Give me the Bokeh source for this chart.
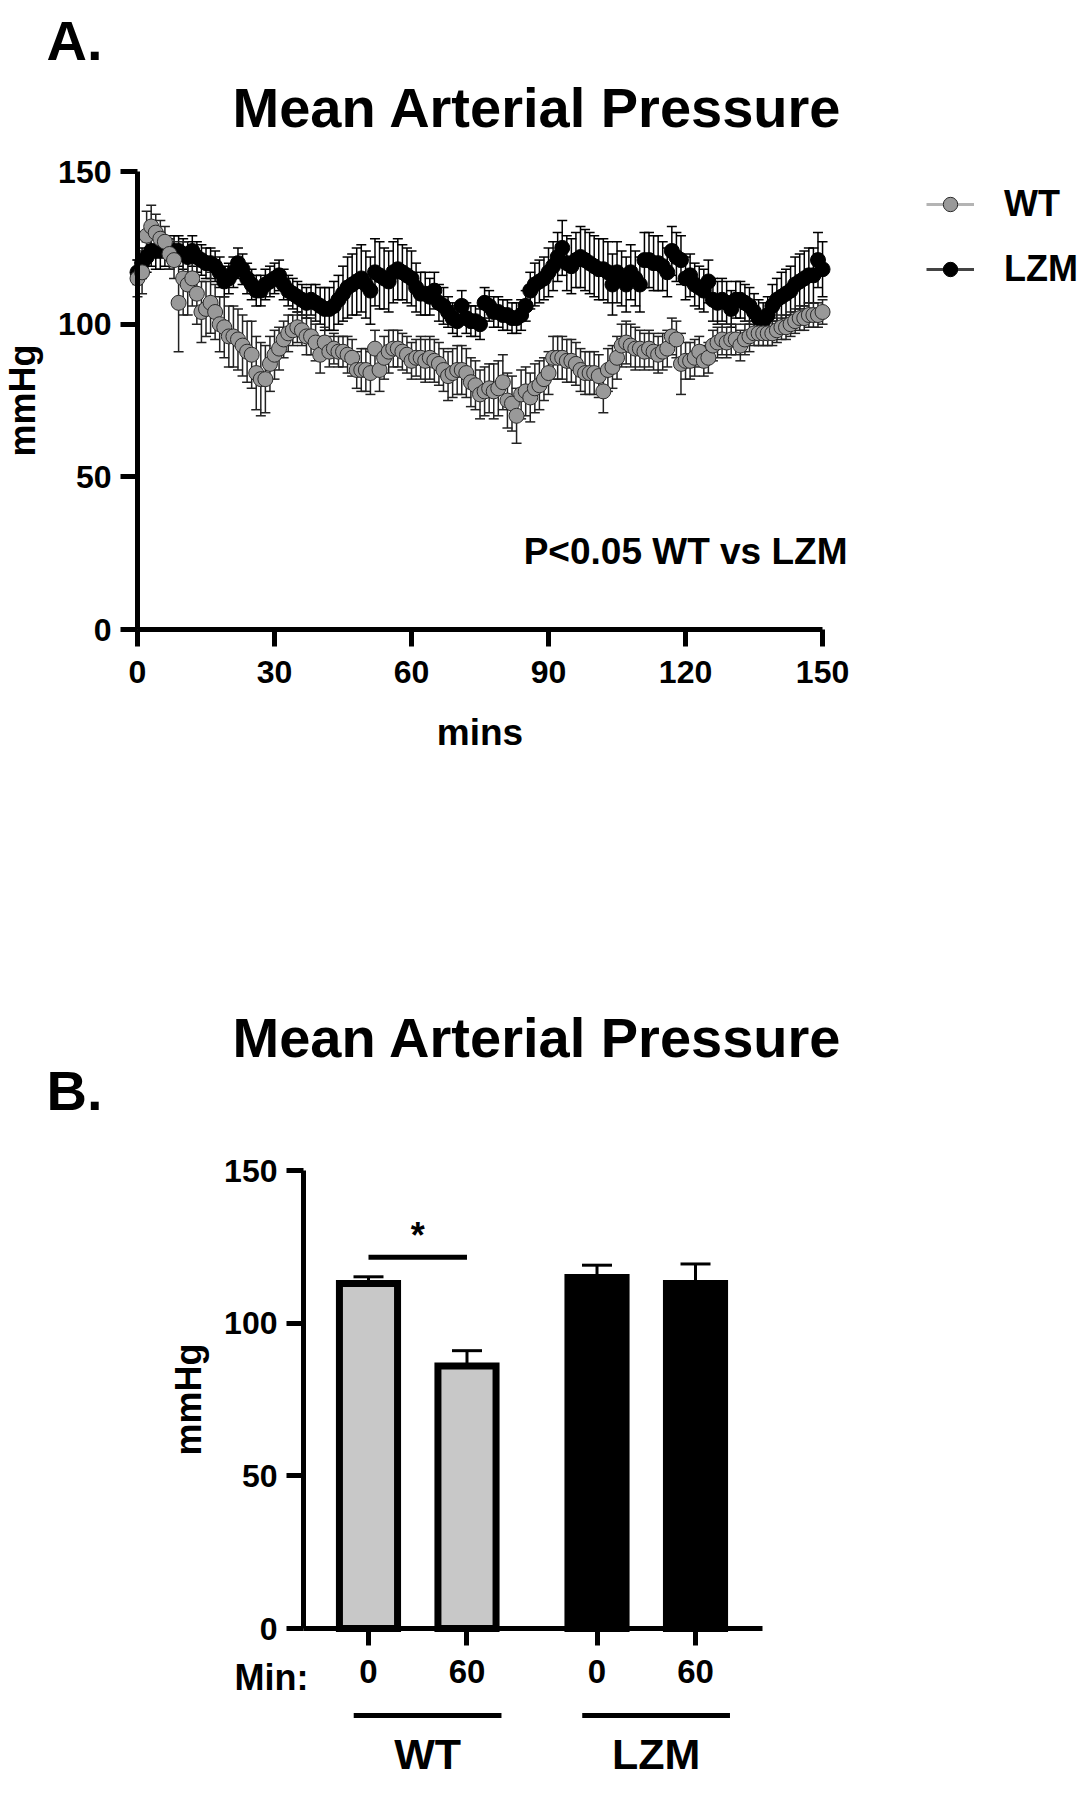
from bokeh.plotting import figure
from bokeh.models import (Range1d, FactorRange, FixedTicker, ColumnDataSource, Whisker,
                          TeeHead, Label, Legend, LegendItem)
from bokeh.layouts import column
from bokeh.transform import factor_cmap
from bokeh.core.properties import value
from bokeh.embed import file_html
from bokeh.resources import INLINE

# ---------------- data ----------------
minutes = list(range(151))

wt_mean = [115, 117, 129, 132, 130, 128, 127, 123, 121, 107,
           115, 113, 115, 110, 104, 105, 107, 104, 100, 99,
           96, 96, 95, 93, 91, 90, 84, 82, 82, 87,
           90, 92, 95, 97, 98, 99, 98, 96, 96, 94,
           90, 94, 91, 92, 91, 91, 90, 89, 85, 85,
           85, 84, 92, 85, 89, 91, 92, 92, 91, 90,
           88, 89, 89, 88, 89, 88, 87, 85, 83, 84,
           85, 85, 84, 81, 80, 77, 78, 79, 78, 79,
           81, 75, 74, 70, 77, 78, 76, 79, 80, 82,
           84, 89, 89, 89, 88, 88, 87, 85, 84, 84,
           84, 83, 78, 85, 86, 89, 93, 94, 93, 92,
           92, 91, 92, 91, 90, 91, 92, 96, 95, 87,
           88, 88, 89, 91, 88, 89, 93, 94, 95, 94,
           95, 95, 93, 95, 96, 97, 97, 97, 97, 97,
           98, 99, 99, 100, 101, 102, 102, 103, 103, 103, 104]

wt_sem = [6, 7, 8, 7, 6, 6, 5, 5, 6, 16,
          12, 10, 9, 10, 10, 9, 10, 9, 9, 10,
          10, 10, 10, 10, 10, 11, 12, 12, 11, 9,
          8, 7, 6, 6, 5, 5, 5, 6, 6, 6,
          6, 5, 5, 5, 5, 5, 6, 6, 6, 7,
          7, 7, 6, 7, 7, 7, 6, 6, 6, 6,
          6, 6, 7, 7, 7, 7, 7, 7, 8, 8,
          8, 8, 8, 8, 8, 8, 8, 8, 9, 9,
          9, 9, 9, 9, 8, 8, 8, 8, 8, 7,
          7, 7, 7, 7, 7, 7, 7, 7, 7, 7,
          7, 7, 7, 7, 7, 7, 7, 7, 7, 7,
          6, 6, 6, 6, 6, 6, 6, 6, 6, 10,
          6, 6, 6, 5, 5, 5, 5, 5, 5, 5,
          5, 5, 5, 5, 5, 4, 4, 4, 4, 4,
          4, 4, 4, 4, 4, 4, 4, 4, 4, 4, 4]

lzm_mean = [117, 120, 122, 124, 124, 124, 124, 123, 124, 124,
            123, 122, 124, 122, 121, 120, 120, 119, 117, 114,
            115, 117, 120, 118, 115, 113, 111, 111, 113, 114,
            115, 116, 113, 111, 110, 109, 108, 107, 108, 107,
            106, 105, 105, 106, 108, 110, 112, 113, 114, 115,
            113, 111, 117, 116, 115, 114, 117, 118, 117, 116,
            115, 112, 110, 110, 109, 111, 107, 106, 104, 102,
            101, 106, 102, 101, 101, 100, 107, 106, 104, 104,
            103, 103, 102, 102, 103, 106, 111, 113, 114, 115,
            117, 119, 122, 125, 120, 119, 121, 122, 121, 120,
            119, 118, 118, 117, 113, 117, 115, 113, 117, 115,
            113, 121, 121, 120, 120, 119, 117, 124, 122, 121,
            115, 116, 113, 112, 111, 114, 108, 107, 108, 107,
            105, 108, 108, 107, 106, 104, 102, 101, 103, 106,
            108, 109, 110, 111, 113, 114, 115, 116, 116, 121, 118]

lzm_sem = [4, 5, 5, 5, 6, 6, 5, 5, 5, 5,
           5, 5, 5, 5, 5, 5, 5, 5, 5, 5,
           5, 5, 5, 5, 5, 5, 5, 5, 5, 5,
           5, 5, 5, 5, 5, 5, 5, 5, 5, 6,
           6, 7, 7, 8, 8, 9, 10, 10, 11, 11,
           11, 11, 11, 11, 10, 10, 10, 10, 9, 9,
           9, 8, 7, 7, 6, 6, 6, 6, 5, 5,
           5, 5, 5, 5, 5, 5, 5, 5, 5, 5,
           5, 5, 5, 5, 5, 5, 6, 7, 7, 7,
           8, 8, 8, 9, 9, 9, 9, 10, 10, 10,
           10, 10, 10, 10, 10, 10, 9, 9, 9, 9,
           9, 9, 9, 9, 9, 8, 8, 8, 8, 8,
           7, 7, 7, 7, 7, 7, 7, 7, 7, 7,
           6, 6, 6, 6, 6, 6, 6, 6, 6, 7,
           7, 8, 8, 8, 9, 9, 9, 9, 9, 9, 9]

x_ticks = [0, 30, 60, 90, 120, 150]
y_ticks = [0, 50, 100, 150]

bar_groups = ["WT", "WT", "LZM", "LZM"]
bar_minutes = ["0", "60", "0", "60"]
bar_means = [113, 86, 115, 113]
bar_sems = [2.2, 5.0, 4.0, 6.4]

title_text = "Mean Arterial Pressure"
p_text = "P<0.05 WT vs LZM"

# ---------------- layout constants (page pixels) ----------------
FONT = "Liberation Sans"
PAGE_W = 1085
HA, HB = 900, 900
A_X0, A_PX_MIN = 137, 4.567        # x=0 position, px per minute
A_Y0, PX_UNIT = 629, 3.053         # y=0 position, px per mmHg
B_X0, B_UNIT = 368, 98.5           # first bar centre, px per factor
B_Y0 = 1628
GROUP_PAD = 0.32

WT_FILL = "#999999"
WT_EDGE = "#2a2a2a"
BAR_GRAY = "#c8c8c8"


def ax_(px):
    return (px - A_X0) / A_PX_MIN


def ay_(py):
    return (A_Y0 - py) / PX_UNIT


def bx_(px):
    return 0.5 + (px - B_X0) / B_UNIT


def by_(py):
    return (B_Y0 - py) / PX_UNIT


def style_axes(p, xsize="32px"):
    for a in p.axis:
        a.axis_line_width = 5
        a.axis_line_color = "black"
        a.major_tick_line_width = 5
        a.major_tick_line_color = "black"
        a.major_tick_out = 17
        a.major_tick_in = 0
        a.minor_tick_out = 0
        a.minor_tick_in = 0
        a.major_label_text_font = FONT
        a.major_label_text_font_style = "bold"
        a.major_label_text_font_size = "32px"
        a.major_label_text_color = "black"
        a.axis_label_text_font = FONT
        a.axis_label_text_font_style = "bold"
        a.axis_label_text_color = "black"
    p.xaxis.major_label_text_font_size = xsize
    p.xaxis.major_label_standoff = 14
    p.yaxis.major_label_standoff = 9
    p.yaxis.axis_label = "mmHg"
    p.yaxis.axis_label_text_font_size = "36px"
    p.yaxis.axis_label_standoff = 12
    p.yaxis.bounds = (0, 150)
    p.yaxis.ticker = FixedTicker(ticks=y_ticks)
    p.grid.visible = False
    p.outline_line_color = None


def bold_label(x, y, text, size, align="left", baseline="middle"):
    return Label(x=x, y=y, text=text, text_font=FONT, text_font_style="bold",
                 text_font_size=size, text_align=align, text_baseline=baseline,
                 text_color="black")


# ---------------- panel A ----------------
pA = figure(width=PAGE_W, height=HA,
            x_range=Range1d(ax_(0), ax_(PAGE_W)), y_range=Range1d(ay_(HA), ay_(0)),
            output_backend="svg", toolbar_location=None, title=None, min_border=0)
style_axes(pA)
pA.xaxis.fixed_location = 0
pA.yaxis.fixed_location = 0
pA.xaxis.bounds = (0, 150)
pA.xaxis.ticker = FixedTicker(ticks=x_ticks)
pA.xaxis.axis_label = "mins"
pA.xaxis.axis_label_text_font_size = "37px"
pA.xaxis.axis_label_standoff = 26


def add_series(p, mean, sem, fill, edge, wcolor, legend_line_color):
    src = ColumnDataSource(dict(x=minutes, y=mean,
                                lower=[m - s for m, s in zip(mean, sem)],
                                upper=[m + s for m, s in zip(mean, sem)]))
    w = Whisker(source=src, base="x", lower="lower", upper="upper", dimension="height",
                line_color=wcolor, line_width=1.5, level="underlay",
                upper_head=TeeHead(size=10, line_color=wcolor, line_width=1.5),
                lower_head=TeeHead(size=10, line_color=wcolor, line_width=1.5))
    p.add_layout(w)
    # connecting line is not drawn in the chart; it only appears in the legend key
    ln = p.line("x", "y", source=src, line_color=legend_line_color, line_width=3,
                visible=False)
    sc = p.scatter("x", "y", source=src, size=15, fill_color=fill,
                   line_color=edge, line_width=1)
    return ln, sc


lzm_line, lzm_r = add_series(pA, lzm_mean, lzm_sem, "black", "black", "black", "#444444")
wt_line, wt_r = add_series(pA, wt_mean, wt_sem, WT_FILL, WT_EDGE, "#222222", "#b4b4b4")

legend = Legend(items=[LegendItem(label="WT", renderers=[wt_line, wt_r]),
                       LegendItem(label="LZM", renderers=[lzm_line, lzm_r])],
                location=(926, HA - 290), padding=0, margin=0, spacing=23,
                glyph_width=48, glyph_height=36, label_height=36, label_standoff=30,
                label_text_font=FONT, label_text_font_style="bold",
                label_text_font_size="36px", label_text_color="black",
                border_line_color=None, background_fill_alpha=0,
                inactive_fill_alpha=0, click_policy="none")
pA.add_layout(legend)

pA.add_layout(bold_label(ax_(46), ay_(40), "A.", "56px"))
pA.add_layout(bold_label(ax_(232), ay_(107), title_text, "56px"))
pA.add_layout(bold_label(ax_(847), ay_(551), p_text, "37px", align="right"))

# ---------------- panel B ----------------
factors = list(zip(bar_groups, bar_minutes))
pad = B_X0 / B_UNIT - 0.5
span = len(factors) + GROUP_PAD
WB = int(round((span + 2 * pad) * B_UNIT))
xr = FactorRange(*factors, group_padding=GROUP_PAD, factor_padding=0,
                 range_padding=pad, range_padding_units="absolute")

pB = figure(width=WB, height=HB, x_range=xr,
            y_range=Range1d(by_(HA + HB), by_(HA)),
            output_backend="svg", toolbar_location=None, title=None, min_border=0)
style_axes(pB, xsize="33px")
pB.xaxis.fixed_location = 0
pB.yaxis.fixed_location = bx_(303)
pB.xaxis.bounds = (bx_(303), bx_(762))
pB.xaxis.group_text_color = None
pB.xaxis.group_text_font_size = "1px"
pB.xaxis.separator_line_color = None

srcB = ColumnDataSource(dict(x=factors, top=bar_means,
                             upper=[m + s for m, s in zip(bar_means, bar_sems)]))
pB.vbar(x="x", top="top", width=0.59, source=srcB,
        fill_color=factor_cmap("x", palette=[BAR_GRAY, "black"], factors=["WT", "LZM"], end=1),
        line_color="black", line_width=7, line_join="miter")
pB.add_layout(Whisker(source=srcB, base="x", lower="top", upper="upper", dimension="height",
                      line_color="black", line_width=3,
                      upper_head=TeeHead(size=30, line_color="black", line_width=3),
                      lower_head=None))

# significance marker
pB.segment(x0=[factors[0]], x1=[factors[1]], y0=[121.6], y1=[121.6],
           line_color="black", line_width=5)
pB.text(x=["WT"], y=[128.7], text=["*"], text_font=value(FONT), text_font_style="bold",
        text_font_size="36px", text_align="center", text_baseline="alphabetic",
        text_color="black")

# group brackets and names under the axis
groups = ["WT", "LZM"]
pB.segment(x0=[(g, "0", -0.15) for g in groups], x1=[(g, "60", 0.35) for g in groups],
           y0=[by_(1715)] * 2, y1=[by_(1715)] * 2, line_color="black", line_width=5)
pB.text(x=[(g, 0.1) for g in groups], y=[by_(1753)] * 2, text=groups, text_font=value(FONT),
        text_font_style="bold", text_font_size="43px", text_align="center",
        text_baseline="middle", text_color="black")

pB.add_layout(bold_label(bx_(46), by_(1090), "B.", "56px"))
pB.add_layout(bold_label(bx_(232), by_(1037), title_text, "56px"))
pB.add_layout(bold_label(bx_(308), by_(1677), "Min:", "36px", align="right"))

layout = column(pA, pB, spacing=0)
open("out.html", "w").write(file_html(layout, INLINE))
